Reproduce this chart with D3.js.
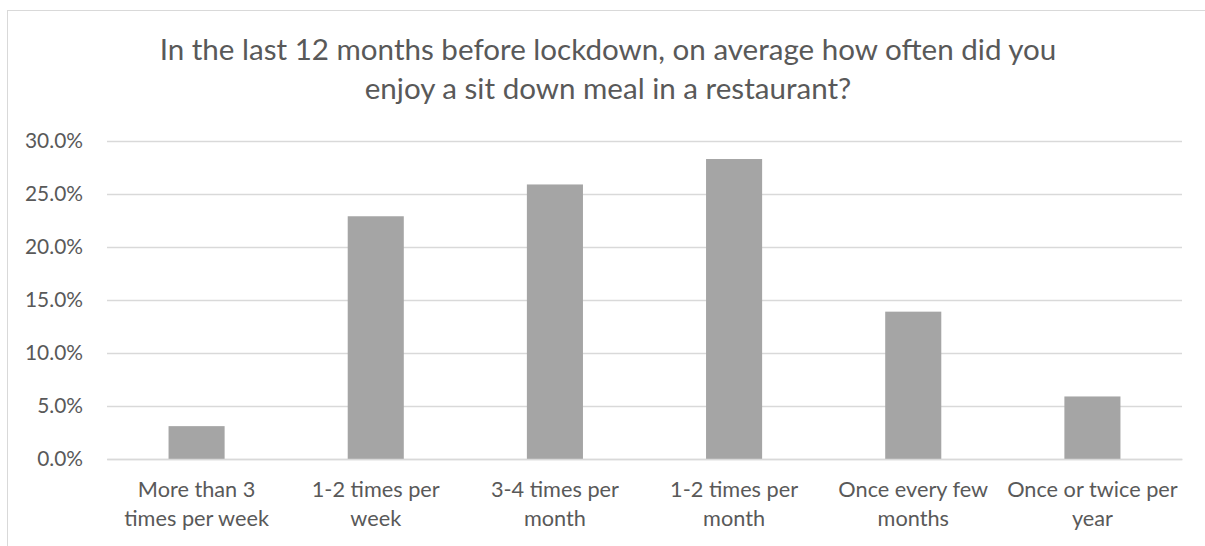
<!DOCTYPE html>
<meta charset="utf-8">
<style>
  body { margin: 0; background: #fff; }
  svg text { font-family: Lato, 'Open Sans', sans-serif; fill: #595959; }
</style>
<body>
<div id="chart"></div>
<script src="https://d3js.org/d3.v7.min.js"></script>
<script>

// data
var titleLines = ["In the last 12 months before lockdown, on average how often did you",
                  "enjoy a sit down meal in a restaurant?"];
var categories = ["More than 3 times per week", "1-2 times per week", "3-4 times per month",
                  "1-2 times per month", "Once every few months", "Once or twice per year"];
var categoryLines = [["More than 3", "times per week"], ["1-2 times per", "week"], ["3-4 times per", "month"],
                     ["1-2 times per", "month"], ["Once every few", "months"], ["Once or twice per", "year"]];
var values = [0.031, 0.229, 0.259, 0.283, 0.139, 0.059];
var yTicks = [0, 0.05, 0.10, 0.15, 0.20, 0.25, 0.30];

var W = 1205, H = 546;
var margin = {top: 141, left: 107, right: 23, bottom: 87};
var width = W - margin.left - margin.right,
    height = H - margin.top - margin.bottom;

var svg = d3.select("#chart").append("svg")
    .attr("width", W)
    .attr("height", H);

// chart frame (right and bottom edges fall outside the picture)
svg.append("rect")
    .attr("x", 7.5).attr("y", 10.5)
    .attr("width", 1210).attr("height", 600)
    .style("fill", "none")
    .style("stroke", "#d9d9d9");

// pick a font size so a text gets the width seen in the reference
function fitSize(text, target) {
  var t = svg.append("text").style("font-size", "100px").text(text);
  var w = t.node().getComputedTextLength();
  t.remove();
  return 100 * target / w;
}

var g = svg.append("g")
    .attr("transform", "translate(" + margin.left + "," + margin.top + ")");

var x = d3.scaleBand()
    .domain(categories)
    .range([0, width])
    .paddingInner(0.687)
    .paddingOuter(0.3435);

var y = d3.scaleLinear()
    .domain([0, 0.30])
    .range([height, 0]);

// gridlines
g.append("g")
  .call(d3.axisLeft(y).tickValues(yTicks).tickSize(-width).tickFormat(""))
  .call(function(a) {
    a.select(".domain").remove();
    a.selectAll("line").style("stroke", "#d9d9d9").style("stroke-width", 1.3);
  });

// bars
g.selectAll(".bar")
  .data(values)
  .enter().append("rect")
    .attr("class", "bar")
    .attr("x", function(d, i) { return x(categories[i]); })
    .attr("y", function(d) { return y(d); })
    .attr("width", x.bandwidth())
    .attr("height", function(d) { return height - y(d); })
    .style("fill", "#a5a5a5");

// y tick labels
var tickSize = fitSize("30.0%", 58);
g.append("g")
  .call(d3.axisLeft(y).tickValues(yTicks).tickSize(0).tickPadding(24).tickFormat(d3.format(".1%")))
  .call(function(a) {
    a.select(".domain").remove();
    a.selectAll("text")
      .attr("font-family", null)
      .style("font-size", tickSize + "px")
      .style("fill", "#595959");
  });

// x category labels, two lines each
var catSize = fitSize("1-2 times per", 128);
var xAxis = g.append("g")
  .attr("transform", "translate(0," + height + ")")
  .call(d3.axisBottom(x).tickSize(0).tickFormat(""));
xAxis.select(".domain").style("stroke", "#d9d9d9").style("stroke-width", 1.3);

xAxis.selectAll(".tick").each(function(d, i) {
  var t = d3.select(this).append("text")
      .attr("text-anchor", "middle")
      .style("font-size", catSize + "px")
      .style("fill", "#595959");
  categoryLines[i].forEach(function(line, j) {
    t.append("tspan")
      .attr("x", 0)
      .attr("y", 38 + j * 28.5)
      .text(line);
  });
});

// title
var titleSize = fitSize(titleLines[0], 897);
svg.append("text")
    .attr("x", 608)
    .attr("text-anchor", "middle")
    .style("font-size", titleSize + "px")
    .selectAll("tspan")
    .data(titleLines)
    .enter().append("tspan")
      .attr("x", 608)
      .attr("y", function(d, i) { return 60 + i * 38.5; })
      .text(function(d) { return d; });

</script>
</body>
